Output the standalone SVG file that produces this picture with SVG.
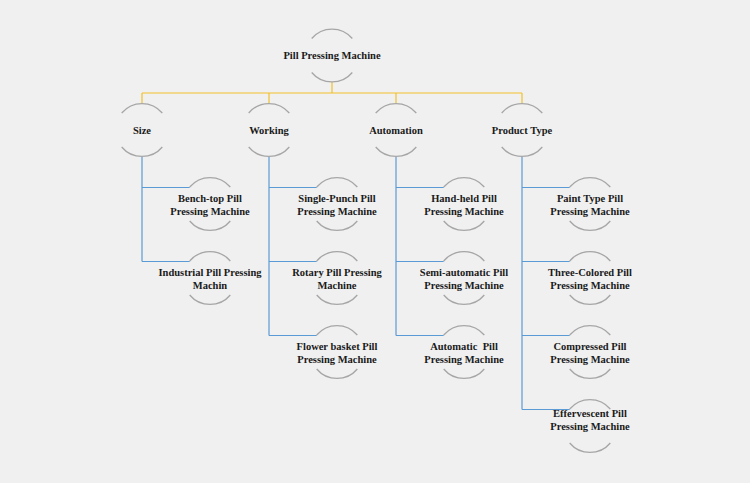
<svg xmlns="http://www.w3.org/2000/svg" xmlns:xlink="http://www.w3.org/1999/xlink" width="750" height="483" viewBox="0 0 750 483">
<style>
.t{font-family:"Liberation Serif","Times New Roman",serif;font-weight:bold;font-size:10.5px;fill:#1a1a1a;text-anchor:middle;white-space:pre}
.ring{fill:none;stroke:#a6a6a6;stroke-width:1.3}
.y{fill:none;stroke:#f2c02a;stroke-width:1.2}
.b{fill:none;stroke:#5b9bd5;stroke-width:1.2}
</style>
<defs>
<path id="ring" class="ring" d="M-20.3,-17 A26.5,26.5 0 0 1 20.3,-17 M-20.3,17 A26.5,26.5 0 0 0 20.3,17"/>
</defs>
<rect width="750" height="483" fill="#f0f0f0"/>
<g id="connectors">
<path class="y" d="M332,82 V93 M142,93 H522 M142,93 V103.5 M269,93 V103.5 M396,93 V103.5 M522,93 V103.5"/>
<path class="b" d="M142,156.5 V261.5 M142,187.5 H189.7 M142,261.5 H189.7"/>
<path class="b" d="M269,156.5 V335.5 M269,187.5 H316.7 M269,261.5 H316.7 M269,335.5 H316.7"/>
<path class="b" d="M396,156.5 V335.5 M396,187.5 H443.7 M396,261.5 H443.7 M396,335.5 H443.7"/>
<path class="b" d="M522,156.5 V409.5 M522,187.5 H569.7 M522,261.5 H569.7 M522,335.5 H569.7 M522,409.5 H569.7"/>
</g>
<g id="root"><use xlink:href="#ring" x="332" y="55.5"/><text class="t" x="332" y="59">Pill Pressing Machine</text></g>
<g id="size"><use xlink:href="#ring" x="142" y="130"/><text class="t" x="142" y="133.5">Size</text></g>
<g id="working"><use xlink:href="#ring" x="269" y="130"/><text class="t" x="269" y="133.5">Working</text></g>
<g id="automation"><use xlink:href="#ring" x="396" y="130"/><text class="t" x="396" y="133.5">Automation</text></g>
<g id="product-type"><use xlink:href="#ring" x="522" y="130"/><text class="t" x="522" y="133.5">Product Type</text></g>

<g id="bench-top"><use xlink:href="#ring" x="210" y="204"/><text class="t" x="210" y="201.5">Bench-top Pill</text><text class="t" x="210" y="214.5">Pressing Machine</text></g>
<g id="industrial"><use xlink:href="#ring" x="210" y="278"/><text class="t" x="210" y="275.5">Industrial Pill Pressing</text><text class="t" x="210" y="288.5">Machin</text></g>

<g id="single-punch"><use xlink:href="#ring" x="337" y="204"/><text class="t" x="337" y="201.5">Single-Punch Pill</text><text class="t" x="337" y="214.5">Pressing Machine</text></g>
<g id="rotary"><use xlink:href="#ring" x="337" y="278"/><text class="t" x="337" y="275.5">Rotary Pill Pressing</text><text class="t" x="337" y="288.5">Machine</text></g>
<g id="flower-basket"><use xlink:href="#ring" x="337" y="352"/><text class="t" x="337" y="349.5">Flower basket Pill</text><text class="t" x="337" y="362.5">Pressing Machine</text></g>

<g id="hand-held"><use xlink:href="#ring" x="464" y="204"/><text class="t" x="464" y="201.5">Hand-held Pill</text><text class="t" x="464" y="214.5">Pressing Machine</text></g>
<g id="semi-automatic"><use xlink:href="#ring" x="464" y="278"/><text class="t" x="464" y="275.5">Semi-automatic Pill</text><text class="t" x="464" y="288.5">Pressing Machine</text></g>
<g id="automatic"><use xlink:href="#ring" x="464" y="352"/><text class="t" x="464" y="349.5">Automatic  Pill</text><text class="t" x="464" y="362.5">Pressing Machine</text></g>

<g id="paint-type"><use xlink:href="#ring" x="590" y="204"/><text class="t" x="590" y="201.5">Paint Type Pill</text><text class="t" x="590" y="214.5">Pressing Machine</text></g>
<g id="three-colored"><use xlink:href="#ring" x="590" y="278"/><text class="t" x="590" y="275.5">Three-Colored Pill</text><text class="t" x="590" y="288.5">Pressing Machine</text></g>
<g id="compressed"><use xlink:href="#ring" x="590" y="352"/><text class="t" x="590" y="349.5">Compressed Pill</text><text class="t" x="590" y="362.5">Pressing Machine</text></g>
<g id="effervescent"><use xlink:href="#ring" x="590" y="426"/><text class="t" x="590" y="416.5">Effervescent Pill</text><text class="t" x="590" y="429.5">Pressing Machine</text></g>
</svg>
